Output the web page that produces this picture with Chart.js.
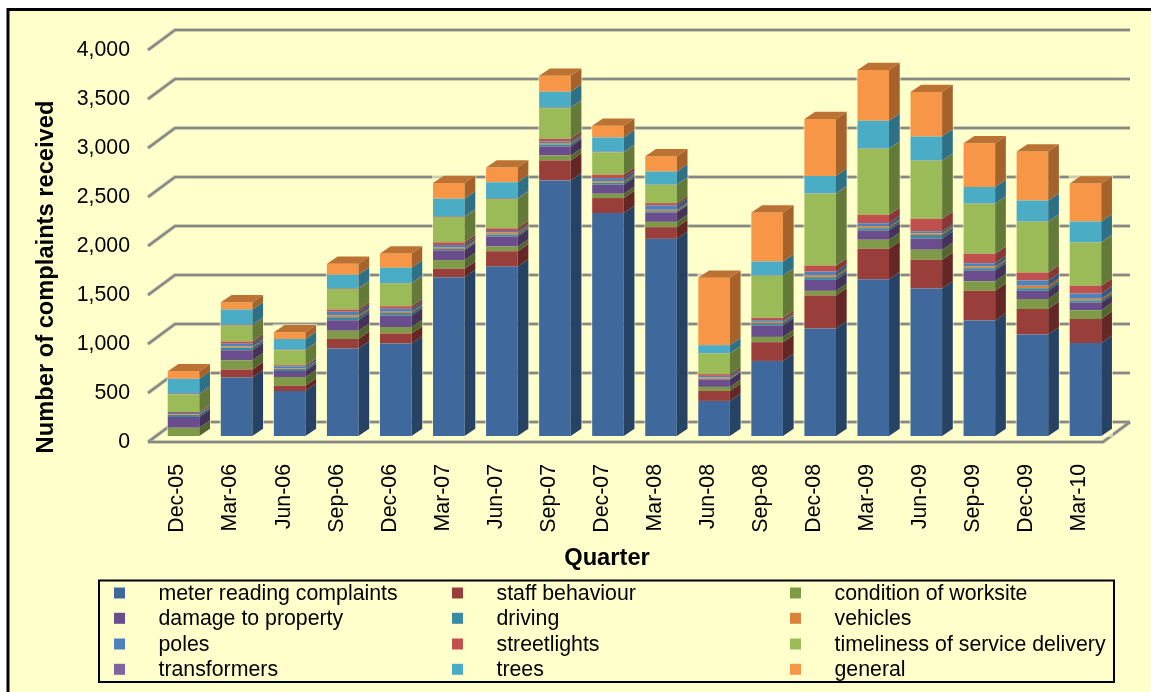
<!DOCTYPE html>
<html>
<head>
<meta charset="utf-8">
<style>html,body{margin:0;padding:0;background:#fff}canvas{display:block}</style>
<script src="https://cdn.jsdelivr.net/npm/chart.js@4"></script>
</head>
<body>
<canvas id="c" width="1151" height="692"></canvas>
<script>
const categories = ["Dec-05","Mar-06","Jun-06","Sep-06","Dec-06","Mar-07","Jun-07","Sep-07","Dec-07","Mar-08","Jun-08","Sep-08","Dec-08","Mar-09","Jun-09","Sep-09","Dec-09","Mar-10"];
const meterReading = [0,596,460,892,943,1621,1729,2608,2275,2012,358,766,1096,1600,1505,1178,1035,950];
const staffBehaviour = [0,82,54,99,102,85,156,204,153,119,102,191,337,310,293,303,262,245];
const conditionOfWorksite = [85,95,89,82,68,89,48,51,44,54,41,54,48,92,102,99,102,89];
const damageToProperty = [109,102,61,109,116,99,102,92,92,95,75,116,112,95,116,109,82,79];
const driving = [20,25,20,30,25,14,20,20,20,14,7,24,27,24,34,24,27,20];
const vehicles = [8,12,8,20,15,14,20,14,17,14,14,14,20,17,20,17,24,17];
const poles = [13,30,20,35,30,27,17,17,31,44,17,17,37,34,20,34,54,54];
const streetlights = [10,22,10,24,25,27,27,27,34,24,17,24,61,85,126,95,82,79];
const timeliness = [180,163,153,211,231,259,300,313,228,187,211,429,735,674,592,511,518,442];
const transformers = [10,10,7,7,7,7,7,7,7,3,3,3,3,3,3,3,3,3];
const trees = [150,153,109,136,156,180,163,160,146,133,82,143,177,283,245,167,214,211];
const general = [75,75,68,112,145,160,150,163,119,156,688,500,582,518,453,446,500,388];
const seriesNames = ["meter reading complaints","staff behaviour","condition of worksite","damage to property","driving","vehicles","poles","streetlights","timeliness of service delivery","transformers","trees","general"];
const seriesValues = [meterReading,staffBehaviour,conditionOfWorksite,damageToProperty,driving,vehicles,poles,streetlights,timeliness,transformers,trees,general];
const frontColors = ["#3F689D","#9A3E3C","#7F9A48","#6A4D8C","#3A8AA3","#D9843A","#4F81BD","#C0504D","#9BBB59","#8064A2","#4BACC6","#F79646"];
const sideColors  = ["#264265","#652725","#536530","#45325B","#266073","#96592A","#345680","#853835","#647A38","#564370","#2E7085","#A5632B"];
const topColors   = ["#335480","#7D3230","#667C3A","#553E70","#2F6F84","#B06A30","#406898","#9C413E","#7D974A","#685183","#3D8BA0","#BC7233"];

const FONT = "'Liberation Sans', Arial, sans-serif";
const WALL_DX = 27, WALL_DY = 20, BAR_SHIFT_X = 9, BAR_SHIFT_Y = -6, SIDE_DX = 10.7, SIDE_DY = 7.3;

const scene3d = {
  id: 'scene3d',
  beforeDraw(chart) {
    const { ctx, width, height } = chart;
    ctx.save();
    ctx.fillStyle = '#fff'; ctx.fillRect(0, 0, width, height);
    ctx.fillStyle = '#FFFFCC'; ctx.fillRect(8, 9.5, width, height);
    ctx.strokeStyle = '#000'; ctx.lineWidth = 3;
    ctx.beginPath(); ctx.moveTo(8, height); ctx.lineTo(8, 9.5); ctx.lineTo(width, 9.5); ctx.stroke();
    ctx.restore();
  },
  beforeDatasetsDraw(chart) {
    const { ctx, chartArea: a, scales: { y } } = chart;
    const stroke = (pts) => {
      ctx.beginPath();
      pts.forEach((p, i) => i ? ctx.lineTo(p[0], p[1]) : ctx.moveTo(p[0], p[1]));
      ctx.lineWidth = 4; ctx.strokeStyle = 'rgba(165,165,140,.55)'; ctx.stroke();
      ctx.lineWidth = 2.2; ctx.strokeStyle = '#878787'; ctx.stroke();
    };
    ctx.save();
    ctx.lineJoin = 'miter';
    y.ticks.forEach(t => {
      const py = y.getPixelForValue(t.value);
      stroke([[a.left, py], [a.left + WALL_DX, py - WALL_DY], [a.right + WALL_DX, py - WALL_DY]]);
    });
    const y0 = y.getPixelForValue(0);
    stroke([[a.left, y0], [a.right, y0], [a.right + WALL_DX, y0 - WALL_DY]]);
    ctx.restore();
    // everything in the bars sits mid-way along the depth of the floor
    ctx.save();
    ctx.translate(BAR_SHIFT_X, BAR_SHIFT_Y);
    // pale halo round each column, softens the gridlines at the column edges
    const last = chart.getDatasetMeta(chart.data.datasets.length - 1).data;
    ctx.fillStyle = 'rgba(255,255,204,.6)';
    last.forEach(el => {
      const w = el.width;
      ctx.fillRect(el.x - w / 2 - 1, el.y - SIDE_DY - 1, w + SIDE_DX + 2, y.getPixelForValue(0) - el.y + SIDE_DY + 2);
    });
  },
  afterDatasetsDraw(chart) {
    const { ctx } = chart;
    chart.data.datasets.forEach((ds, di) => {
      const els = chart.getDatasetMeta(di).data;
      els.forEach((el, i) => {
        if (!ds.data[i]) return;
        const r = el.x + el.width / 2, l = el.x - el.width / 2;
        ctx.fillStyle = sideColors[di];
        ctx.beginPath();
        ctx.moveTo(r, el.base); ctx.lineTo(r + SIDE_DX, el.base - SIDE_DY);
        ctx.lineTo(r + SIDE_DX, el.y - SIDE_DY); ctx.lineTo(r, el.y);
        ctx.closePath(); ctx.fill();
        if (di === chart.data.datasets.length - 1) {
          ctx.fillStyle = topColors[di];
          ctx.beginPath();
          ctx.moveTo(l, el.y); ctx.lineTo(l + SIDE_DX, el.y - SIDE_DY);
          ctx.lineTo(r + SIDE_DX, el.y - SIDE_DY); ctx.lineTo(r, el.y);
          ctx.closePath(); ctx.fill();
        }
      });
    });
    ctx.restore();
  },
  afterDraw(chart) {
    const { ctx } = chart;
    ctx.save();
    // axis titles
    ctx.fillStyle = '#000'; ctx.textAlign = 'center'; ctx.textBaseline = 'middle';
    ctx.font = 'bold 23.7px ' + FONT;
    ctx.fillText('Quarter', 607, 558);
    ctx.save(); ctx.translate(46, 277); ctx.rotate(-Math.PI / 2);
    ctx.fillText('Number of complaints received', 0, 0); ctx.restore();
    // legend
    ctx.lineWidth = 2; ctx.strokeStyle = '#000';
    ctx.strokeRect(99, 580.5, 1015, 101.5);
    ctx.font = '21.3px ' + FONT; ctx.textAlign = 'left';
    const colX = [114, 452, 790], rowY = [593, 618.3, 644, 669.3];
    chart.data.datasets.forEach((ds, i) => {
      const cx = colX[i % 3], cy = rowY[Math.floor(i / 3)];
      ctx.fillStyle = ds.backgroundColor; ctx.fillRect(cx, cy - 5.5, 11, 11);
      ctx.fillStyle = '#000'; ctx.fillText(ds.label, cx + 44.5, cy + 1);
    });
    ctx.restore();
  }
};

new Chart(document.getElementById('c'), {
  type: 'bar',
  data: {
    labels: categories,
    datasets: seriesValues.map((d, i) => ({ label: seriesNames[i], data: d, backgroundColor: frontColors[i], borderWidth: 0 }))
  },
  plugins: [scene3d],
  options: {
    responsive: false, animation: false, devicePixelRatio: 1,
    layout: { padding: { left: 0, top: 50, right: 48, bottom: 0 } },
    datasets: { bar: { barPercentage: 1, categoryPercentage: 0.595 } },
    plugins: { legend: { display: false }, tooltip: { enabled: false }, title: { display: false } },
    scales: {
      x: {
        stacked: true,
        grid: { display: false }, border: { display: false },
        afterFit(s) { s.height = 250; },
        ticks: { minRotation: 90, maxRotation: 90, autoSkip: false, color: '#000', padding: 14, labelOffset: 3, font: { family: FONT, size: 21.3 } }
      },
      y: {
        stacked: true, min: 0, max: 4000,
        grid: { display: false }, border: { display: false },
        afterFit(s) { s.width = 148; },
        ticks: { stepSize: 500, color: '#000', padding: 10, font: { family: FONT, size: 21.3 },
          callback: v => v.toLocaleString('en-US') }
      }
    }
  }
});
</script>
</body>
</html>
